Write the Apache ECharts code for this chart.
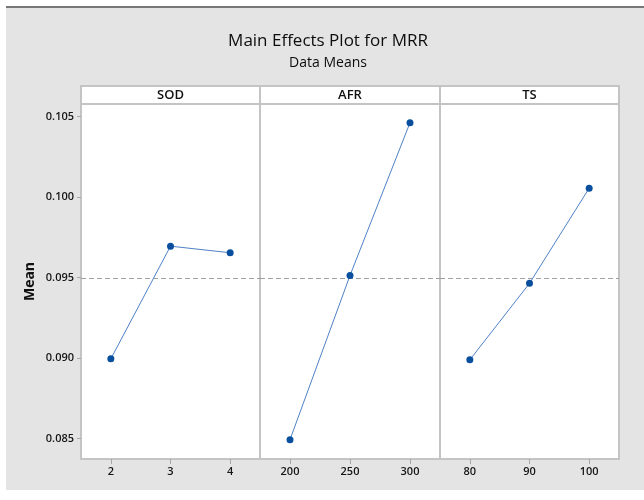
<!DOCTYPE html>
<html>
<head>
<meta charset="utf-8">
<title>Main Effects Plot for MRR</title>
<script src="https://cdn.jsdelivr.net/npm/echarts@6/dist/echarts.min.js"></script>
<style>
  html, body { margin: 0; padding: 0; background: #ffffff; }
  #chart { width: 644px; height: 500px; }
</style>
</head>
<body>
<div id="chart"></div>
<script>
// Factor levels and the mean MRR at each level
const sodLevels = ['2', '3', '4'];
const sodMeans = [0.08996, 0.09696, 0.09655];

const afrLevels = ['200', '250', '300'];
const afrMeans = [0.08494, 0.09514, 0.10463];

const tsLevels = ['80', '90', '100'];
const tsMeans = [0.08990, 0.09465, 0.10056];

// Grand mean of all observations (dashed reference line)
const overallMean = 0.09496;

// Y axis tick values and shared range
const yTicks = [0.085, 0.090, 0.095, 0.100, 0.105];
const yMin = 0.08374;
const yMax = 0.10579;

const factorNames = ['SOD', 'AFR', 'TS'];
const factorLevels = [sodLevels, afrLevels, tsLevels];
const factorMeans = [sodMeans, afrMeans, tsMeans];

const FONT = "'Open Sans', 'Noto Sans', sans-serif";
const BORDER = '#c4c4c4';

const panels = [
  { left: 81, width: 179 },
  { left: 260, width: 180 },
  { left: 440, width: 179 }
];
const plotTop = 104;
const plotHeight = 355;
const headerTop = 86;

const chart = echarts.init(document.getElementById('chart'), null, { renderer: 'canvas' });

const grid = panels.map(p => ({
  left: p.left, top: plotTop, width: p.width, height: plotHeight,
  show: true, backgroundColor: '#ffffff', borderColor: BORDER, borderWidth: 2,
  containLabel: false
}));

const xAxis = factorLevels.map((levels, i) => ({
  type: 'category',
  gridIndex: i,
  data: levels,
  boundaryGap: true,
  axisLine: { show: true, lineStyle: { color: BORDER, width: 2 } },
  axisTick: { show: true, alignWithLabel: true, length: 5, lineStyle: { color: '#a8a8a8' } },
  axisLabel: { color: '#151515', fontSize: 11, fontWeight: 600, fontFamily: FONT, margin: 7 },
  splitLine: { show: false }
}));

const yAxis = factorLevels.map((levels, i) => ({
  type: 'value',
  gridIndex: i,
  min: yMin,
  max: yMax,
  show: i === 0,
  name: i === 0 ? 'Mean' : '',
  nameLocation: 'middle',
  nameGap: 44,
  nameTextStyle: { color: '#111', fontSize: 14, fontWeight: 'bold', fontFamily: FONT },
  axisLine: { show: true, lineStyle: { color: BORDER, width: 2 } },
  axisTick: { show: true, length: 4, customValues: yTicks, lineStyle: { color: '#a8a8a8' } },
  axisLabel: {
    color: '#151515', fontSize: 11, fontWeight: 600, fontFamily: FONT, margin: 7,
    customValues: yTicks,
    formatter: v => v.toFixed(3)
  },
  splitLine: { show: false }
}));

const series = factorMeans.map((means, i) => ({
  type: 'line',
  xAxisIndex: i,
  yAxisIndex: i,
  data: means,
  symbol: 'circle',
  symbolSize: 7,
  lineStyle: { color: '#4f82c6', width: 1 },
  itemStyle: { color: '#0a4f9e' },
  z: 5,
  markLine: {
    silent: true,
    symbol: 'none',
    precision: 6,
    label: { show: false },
    lineStyle: { color: '#a0a0a0', width: 1, type: [5, 3] },
    data: [{ yAxis: overallMean }],
    z: 3
  }
}));

// Backdrop, titles and the factor header strips above each panel
const graphic = [
  { type: 'rect', shape: { x: 6, y: 8, width: 638, height: 482 }, style: { fill: '#e4e4e4' }, z: -10 },
  { type: 'line', shape: { x1: 6, y1: 7, x2: 644, y2: 7 }, style: { stroke: '#777777', lineWidth: 2 }, z: -9 },
  { type: 'text', x: 328, y: 41, style: { text: 'Main Effects Plot for MRR', fill: '#0d0d0d', font: '17px ' + FONT, textAlign: 'center', textVerticalAlign: 'middle' } },
  { type: 'text', x: 328, y: 63, style: { text: 'Data Means', fill: '#0d0d0d', font: '14px ' + FONT, textAlign: 'center', textVerticalAlign: 'middle' } }
];
panels.forEach((p, i) => {
  graphic.push({
    type: 'rect',
    shape: { x: p.left, y: headerTop, width: p.width, height: plotTop - headerTop },
    style: { fill: '#ffffff', stroke: BORDER, lineWidth: 2 },
    z: 1
  });
  graphic.push({
    type: 'text',
    x: p.left + p.width / 2,
    y: (headerTop + plotTop) / 2 + 0.5,
    style: { text: factorNames[i], fill: '#111', font: '600 13px ' + FONT, textAlign: 'center', textVerticalAlign: 'middle' },
    z: 2
  });
});

chart.setOption({
  animation: false,
  backgroundColor: '#ffffff',
  grid: grid,
  xAxis: xAxis,
  yAxis: yAxis,
  series: series,
  graphic: graphic
});
</script>
</body>
</html>
